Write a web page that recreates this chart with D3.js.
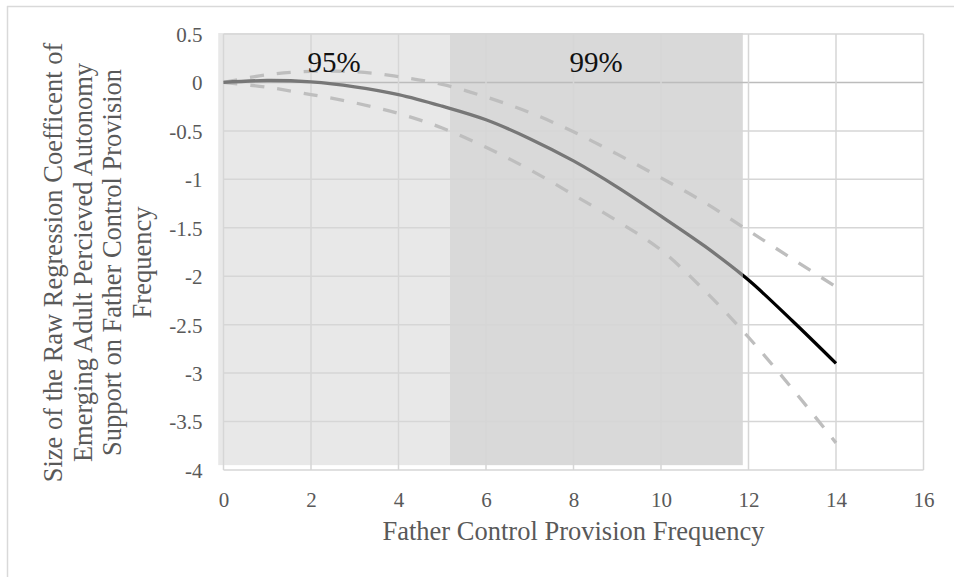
<!DOCTYPE html>
<html><head><meta charset="utf-8">
<script src="https://cdn.jsdelivr.net/npm/d3@7"></script>
<style>body{margin:0;background:#fff}svg{display:block}</style>
</head><body>
<script>
// Data
const xValues   = [0, 1, 2, 3, 4, 5, 6, 7, 8, 9, 10, 11, 12, 13, 14];
const estimate  = [0, 0.02, 0.005, -0.045, -0.125, -0.245, -0.385, -0.58, -0.81, -1.08, -1.38, -1.69, -2.04, -2.46, -2.90];
const upperCI   = [0, 0.08, 0.115, 0.11, 0.06, -0.02, -0.15, -0.31, -0.51, -0.74, -0.985, -1.24, -1.53, -1.82, -2.11];
const lowerCI   = [0, -0.05, -0.125, -0.21, -0.32, -0.47, -0.67, -0.90, -1.16, -1.43, -1.73, -2.15, -2.63, -3.16, -3.72];
const regionLabels = ["95%", "99%"];
const regionStart  = [-0.12, 5.17];
const regionEnd    = [5.17, 11.87];
const regionFill   = ["#e8e8e8", "#d9d9d9"];
const xTicks = [0, 2, 4, 6, 8, 10, 12, 14, 16];
const yTicks = [0.5, 0, -0.5, -1, -1.5, -2, -2.5, -3, -3.5, -4];
const xTitle = "Father Control Provision Frequency";
const yTitleLines = ["Size of the Raw Regression Coefficent of",
                     "Emerging Adult Percieved Autonomy",
                     "Support on Father Control Provision",
                     "Frequency"];

const W = 954, H = 577;
const svg = d3.select("body").append("svg").attr("width", W).attr("height", H);
const font = "'Liberation Serif', 'Times New Roman', serif";

// outer frame
svg.append("line").attr("x1", 7).attr("x2", W).attr("y1", 6.5).attr("y2", 6.5).attr("stroke", "#d9d9d9").attr("stroke-width", 1.5);
svg.append("line").attr("x1", 7.5).attr("x2", 7.5).attr("y1", 6).attr("y2", H).attr("stroke", "#d9d9d9").attr("stroke-width", 1.5);

const x = d3.scaleLinear().domain([0, 16]).range([223.5, 923.5]);
const y = d3.scaleLinear().domain([-4, 0.5]).range([470, 34]);

// shaded significance regions
svg.selectAll("rect.region").data(regionLabels).enter().append("rect")
  .attr("x", (d, i) => x(regionStart[i]))
  .attr("width", (d, i) => x(regionEnd[i]) - x(regionStart[i]))
  .attr("y", y(0.5) - 1)
  .attr("height", y(-3.95) - y(0.5) + 1)
  .attr("fill", (d, i) => regionFill[i]);

// gridlines
const grid = svg.append("g");
grid.selectAll("line.h").data(yTicks).enter().append("line")
  .attr("x1", x(0)).attr("x2", x(16))
  .attr("y1", d => y(d)).attr("y2", d => y(d))
  .attr("stroke", d => d === 0 ? "#bcbcbc" : "#d6d6d6").attr("stroke-width", 1.5);
grid.selectAll("line.v").data(xTicks).enter().append("line")
  .attr("y1", y(0.5)).attr("y2", y(-4))
  .attr("x1", d => x(d)).attr("x2", d => x(d))
  .attr("stroke", "#d6d6d6").attr("stroke-width", 1.5);

// axes (labels only)
const xAxis = d3.axisBottom(x).tickValues(xTicks).tickSize(0).tickPadding(0).tickFormat(d3.format("d"));
const gx = svg.append("g").attr("transform", `translate(0,${y(-4) + 37})`).call(xAxis);
gx.select(".domain").remove();
gx.selectAll("text").attr("font-family", font).attr("font-size", 21).attr("fill", "#595959").attr("dy", 0);

const yAxis = d3.axisLeft(y).tickValues(yTicks).tickSize(0).tickPadding(0).tickFormat(d => d === 0 ? "0" : String(d));
const gy = svg.append("g").attr("transform", `translate(${x(0) - 21},0)`).call(yAxis);
gy.select(".domain").remove();
gy.selectAll("text").attr("font-family", font).attr("font-size", 21).attr("fill", "#595959").attr("dy", "0.35em");

// lines
const pts = arr => xValues.map((xv, i) => [xv, arr[i]]);
const line = d3.line().x(d => x(d[0])).y(d => y(d[1])).curve(d3.curveCatmullRom.alpha(0.5));

const defs = svg.append("defs");
defs.append("clipPath").attr("id", "clipL").append("rect")
  .attr("x", 0).attr("y", 0).attr("width", x(regionEnd[1])).attr("height", H);
defs.append("clipPath").attr("id", "clipR").append("rect")
  .attr("x", x(regionEnd[1])).attr("y", 0).attr("width", W).attr("height", H);

[upperCI, lowerCI].forEach(arr => {
  svg.append("path").attr("d", line(pts(arr))).attr("fill", "none")
    .attr("stroke", "#bebebe").attr("stroke-width", 3.3).attr("stroke-dasharray", "14,13");
});
svg.append("path").attr("d", line(pts(estimate))).attr("fill", "none")
  .attr("stroke", "#777777").attr("stroke-width", 3.3).attr("clip-path", "url(#clipL)");
svg.append("path").attr("d", line(pts(estimate))).attr("fill", "none")
  .attr("stroke", "#000").attr("stroke-width", 3.3).attr("clip-path", "url(#clipR)");

// region labels
svg.selectAll("text.reg").data(regionLabels).enter().append("text")
  .attr("x", (d, i) => i === 0 ? 334 : 596)
  .attr("y", 72)
  .attr("text-anchor", "middle")
  .attr("font-family", font).attr("font-size", 29).attr("fill", "#111")
  .text(d => d);

// axis titles
svg.append("text").attr("x", (x(0) + x(16)) / 2).attr("y", 540)
  .attr("text-anchor", "middle").attr("font-family", font).attr("font-size", 26.5)
  .attr("fill", "#595959").text(xTitle);

const yt = svg.append("text").attr("transform", "translate(0,262.5) rotate(-90)")
  .attr("text-anchor", "middle").attr("font-family", font).attr("font-size", 26.5).attr("fill", "#595959");
yTitleLines.forEach((t, i) => {
  yt.append("tspan").attr("x", 0).attr("y", 62 + i * 29.6).text(t);
});
</script>
</body></html>
